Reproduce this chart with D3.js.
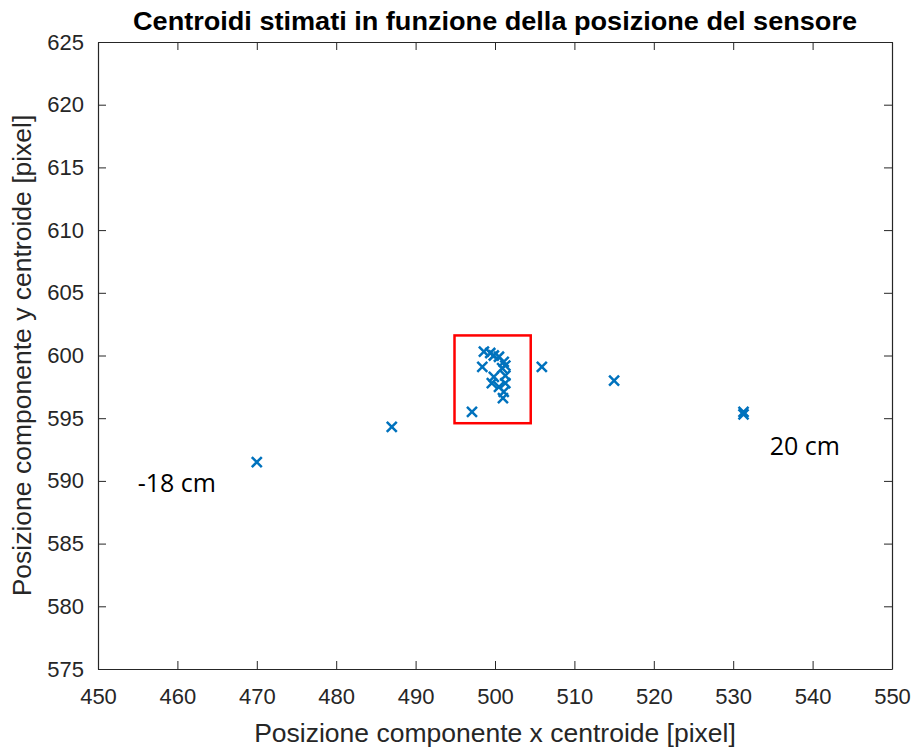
<!DOCTYPE html>
<html>
<head>
<meta charset="utf-8">
<script src="https://cdn.jsdelivr.net/npm/d3@7"></script>
<style>
  html, body { margin: 0; padding: 0; background: #fff; }
  svg { display: block; }
</style>
</head>
<body>
<svg id="chart" width="912" height="749"></svg>
<script>
// Estimated centroid positions (x, y) in pixels
const xValues = [470.0, 487.0, 497.1, 498.6, 499.4, 499.85, 500.5, 501.1, 501.3, 498.4, 500.9, 499.85, 501.3, 499.6, 501.3, 500.5, 501.1, 501.0, 505.9, 515.0, 531.3, 531.3];
const yValues = [591.5, 594.3, 595.5, 600.3, 600.2, 600.0, 599.9, 599.5, 599.2, 599.1, 599.0, 598.3, 598.4, 597.8, 597.8, 597.5, 597.1, 596.6, 599.1, 598.0, 595.5, 595.3];

const xTicks = [450, 460, 470, 480, 490, 500, 510, 520, 530, 540, 550];
const yTicks = [575, 580, 585, 590, 595, 600, 605, 610, 615, 620, 625];

// Highlight box around the central cluster (data units)
const boxX = [494.9, 504.5];
const boxY = [594.6, 601.6];

// Position annotations
const annotations = [
  { text: "-18 cm", x: 455.0, y: 589.15 },
  { text: "20 cm", x: 534.6, y: 592.05 }
];

const titleText = "Centroidi stimati in funzione della posizione del sensore";
const xLabel = "Posizione componente x centroide [pixel]";
const yLabel = "Posizione componente y centroide [pixel]";

const svg = d3.select("#chart");
const plotLeft = 98, plotRight = 892, plotTop = 42, plotBottom = 669;

const x = d3.scaleLinear().domain([450, 550]).range([plotLeft, plotRight]);
const y = d3.scaleLinear().domain([575, 625]).range([plotBottom, plotTop]);

const axisColor = "#262626";
const tickLen = 8;
const sans = "'Liberation Sans', Arial, sans-serif";

// Axes with inward ticks on all four sides
const gx = svg.append("g").attr("transform", `translate(0,${plotBottom})`)
  .call(d3.axisBottom(x).tickValues(xTicks).tickSizeInner(-tickLen).tickSizeOuter(0).tickPadding(19));
const gxTop = svg.append("g").attr("transform", `translate(0,${plotTop})`)
  .call(d3.axisTop(x).tickValues(xTicks).tickSizeInner(-tickLen).tickSizeOuter(0).tickFormat(""));
const gy = svg.append("g").attr("transform", `translate(${plotLeft},0)`)
  .call(d3.axisLeft(y).tickValues(yTicks).tickSizeInner(-tickLen).tickSizeOuter(0).tickPadding(14));
const gyRight = svg.append("g").attr("transform", `translate(${plotRight},0)`)
  .call(d3.axisRight(y).tickValues(yTicks).tickSizeInner(-tickLen).tickSizeOuter(0).tickFormat(""));

[gx, gxTop, gy, gyRight].forEach(g => {
  g.select(".domain").attr("stroke", axisColor).attr("stroke-width", 1.2);
  g.selectAll(".tick line").attr("stroke", axisColor).attr("stroke-width", 1);
  g.selectAll(".tick text").attr("fill", axisColor)
    .style("font-family", sans).style("font-size", "22px");
});
gx.selectAll(".tick text").attr("dy", "0.71em");

// Markers: "x" crosses
const ms = 5;
const marks = svg.append("g");
xValues.forEach((xv, i) => {
  const cx = x(xv), cy = y(yValues[i]);
  marks.append("path")
    .attr("d", `M${cx - ms},${cy - ms}L${cx + ms},${cy + ms}M${cx - ms},${cy + ms}L${cx + ms},${cy - ms}`)
    .attr("stroke", "#0072BD").attr("stroke-width", 2.5).attr("fill", "none");
});

// Red highlight rectangle
svg.append("rect")
  .attr("x", x(boxX[0])).attr("y", y(boxY[1]))
  .attr("width", x(boxX[1]) - x(boxX[0])).attr("height", y(boxY[0]) - y(boxY[1]))
  .attr("fill", "none").attr("stroke", "#FF0000").attr("stroke-width", 2.5);

// Annotations
svg.selectAll(".ann").data(annotations).enter().append("text")
  .attr("class", "ann")
  .attr("x", d => x(d.x)).attr("y", d => y(d.y))
  .attr("fill", "#000")
  .style("font-family", "'Open Sans', sans-serif").style("font-size", "25px")
  .text(d => d.text);

// Title
svg.append("text")
  .attr("x", (plotLeft + plotRight) / 2).attr("y", 30)
  .attr("text-anchor", "middle")
  .attr("textLength", 724).attr("lengthAdjust", "spacingAndGlyphs")
  .style("font-family", sans).style("font-weight", "bold").style("font-size", "25px")
  .attr("fill", "#000")
  .text(titleText);

// Axis labels
svg.append("text")
  .attr("x", (plotLeft + plotRight) / 2).attr("y", 742)
  .attr("text-anchor", "middle")
  .style("font-family", sans).style("font-size", "26.5px")
  .attr("fill", axisColor)
  .text(xLabel);

svg.append("text")
  .attr("transform", `translate(31,${(plotTop + plotBottom) / 2}) rotate(-90)`)
  .attr("text-anchor", "middle")
  .style("font-family", sans).style("font-size", "26.5px")
  .attr("fill", axisColor)
  .text(yLabel);
</script>
</body>
</html>
